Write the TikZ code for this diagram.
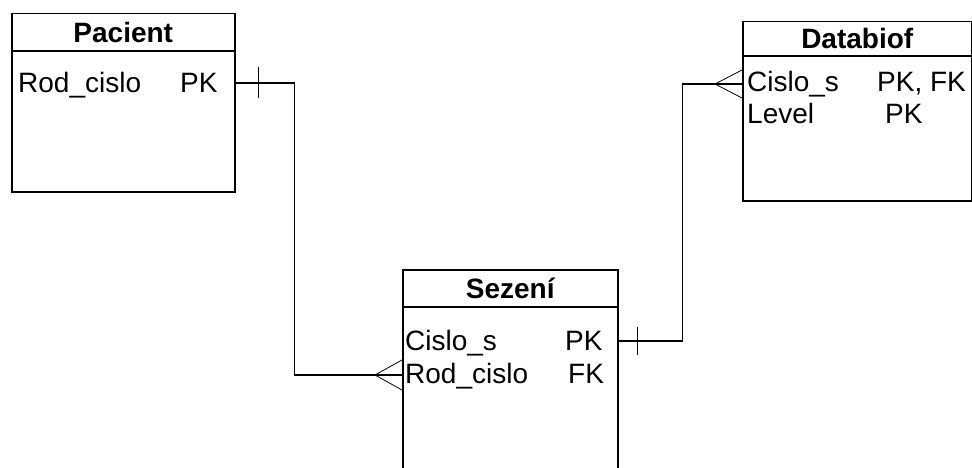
\documentclass[tikz,border=0pt]{standalone}
\usepackage{fontspec}
\setmainfont{Liberation Sans}
\usetikzlibrary{calc}
\begin{document}
\begin{tikzpicture}[x=1pt,y=-1pt,
 tbl/.style={draw, line width=1.5pt, anchor=north west, inner sep=0pt},
 ttl/.style={font=\fontsize{28}{30}\selectfont\bfseries, inner sep=0pt},
 row/.style={font=\fontsize{28}{30}\selectfont, anchor=base west, inner sep=0pt},
 rel/.style={line width=1.5pt},
 crow/.style={line width=0.8pt}]
\useasboundingbox (0,0) rectangle (972,468);
\clip (0,0) rectangle (972,468);
% Pacient
\node[tbl, minimum width=223pt, minimum height=178pt] (pac) at (11,13) {};
\draw[rel] ($(pac.north west)+(0,38)$) -- ($(pac.north east)+(0,38)$);
\node[ttl] (pact) at ($(pac.north)+(0,19)$) {Pacient};
\node[row] (pacr1) at (18,93) {Rod\_cislo};
\node[row] (pacr1k) at (180,93) {PK};
% Sezeni
\node[tbl, minimum width=215pt, minimum height=230pt] (sez) at (402,269) {};
\draw[rel] ($(sez.north west)+(0,38)$) -- ($(sez.north east)+(0,38)$);
\node[ttl] (sezt) at ($(sez.north)+(0,19)$) {Sezení};
\node[row] (sezr1) at (405,350) {Cislo\_s};
\node[row] (sezr1k) at (565,350) {PK};
\node[row] (sezr2) at (405,383) {Rod\_cislo};
\node[row] (sezr2k) at (568,383) {FK};
% Databiof
\node[tbl, minimum width=229pt, minimum height=179pt] (dbf) at (742,21) {};
\draw[rel] ($(dbf.north west)+(0,35)$) -- ($(dbf.north east)+(0,35)$);
\node[ttl] (dbft) at ($(dbf.north)+(0,17.5)$) {Databiof};
\node[row] (dbfr1) at (747,92) {Cislo\_s};
\node[row] (dbfr1k) at (877,92) {PK, FK};
\node[row] (dbfr2) at (747,124) {Level};
\node[row] (dbfr2k) at (885,124) {PK};
% connection points
\coordinate (pA) at ($(pac.east|-pacr1.base)+(0,-10)$);
\coordinate (sB) at ($(sez.west|-sezr2.base)+(0,-8)$);
\coordinate (sA) at ($(sez.east|-sezr1.base)+(0,-9)$);
\coordinate (dB) at ($(dbf.west|-dbfr1.base)+(0,-8)$);
% Pacient -> Sezeni
\draw[rel] (pA) -- ++(59,0) |- (sB);
\draw[rel] ($(pA)+(23,-16)$) -- ++(0,31);
\draw[crow] ($(sB)+(0,-15)$) -- ++(-27,15) -- ++(27,15);
% Sezeni -> Databiof
\draw[rel] (sA) -- ++(64,0) |- (dB);
\draw[rel] ($(sA)+(19,-14)$) -- ++(0,28);
\draw[crow] ($(dB)+(0,-14)$) -- ++(-27,14) -- ++(27,14);
\end{tikzpicture}
\end{document}
